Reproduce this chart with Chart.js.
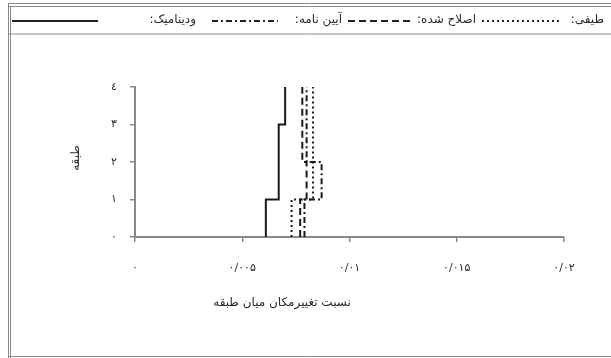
<!DOCTYPE html>
<html>
<head>
<meta charset="utf-8">
<script src="https://cdn.jsdelivr.net/npm/chart.js@4.4.1/dist/chart.umd.min.js"></script>
<style>
  body { margin: 0; background: #fff; }
  canvas { display: block; }
</style>
</head>
<body>
<canvas id="myChart" width="611" height="358"></canvas>
<script>
// stories and drift ratio per story
const stories = [1, 2, 3, 4];
const dynamicDrift = [0.0061, 0.0067, 0.0067, 0.0070];   // solid
const spectralDrift = [0.0073, 0.0083, 0.0083, 0.0083];  // dotted
const modifiedDrift = [0.0077, 0.0080, 0.0078, 0.0078];  // dashed
const codeDrift = [0.0079, 0.0087, 0.0080, 0.0080];      // dash-dot

const xTickLabels = ['۰', '۰/۰۰۵', '۰/۰۱', '۰/۰۱۵', '۰/۰۲'];
const yTickLabels = ['۰', '۱', '۲', '۳', '٤'];

const seriesNames = ['طیفی', 'اصلاح شده', 'آیین نامه', 'ودینامیک'];
const xTitle = 'نسبت تغییرمکان میان طبقه';
const yTitle = 'طبقه';

const FONT = '"DejaVu Sans", sans-serif';

// story profile: each story is a vertical segment from floor to floor
function stepPoints(drifts) {
  const pts = [];
  drifts.forEach((d, i) => {
    pts.push({ x: d, y: stories[i] - 1 });
    pts.push({ x: d, y: stories[i] });
  });
  return pts;
}

const dashes = [[2, 3], [7, 4], [6, 3, 2, 3], []];

// frame, legend and axis titles
const decor = {
  id: 'decor',
  afterDraw(chart) {
    const c = chart.ctx;
    c.save();
    c.strokeStyle = '#8a8a8a';
    c.lineWidth = 1;
    c.beginPath();
    c.moveTo(8, 3.5); c.lineTo(611, 3.5);
    c.moveTo(8, 6.5); c.lineTo(611, 6.5);
    c.moveTo(8, 34); c.lineTo(611, 34);
    c.moveTo(8.5, 3); c.lineTo(8.5, 358);
    c.moveTo(10.5, 6); c.lineTo(10.5, 358);
    c.moveTo(8, 356.5); c.lineTo(611, 356.5);
    c.stroke();

    // legend, right to left: label then sample
    const items = [
      { name: seriesNames[0], labelRight: 604, sample: [482, 562], dash: dashes[0] },
      { name: seriesNames[1], labelRight: 476, sample: [348, 410], dash: dashes[1] },
      { name: seriesNames[2], labelRight: 342, sample: [212, 278], dash: dashes[2] },
      { name: seriesNames[3], labelRight: 196, sample: [12, 98], dash: dashes[3] }
    ];
    c.font = '12px ' + FONT;
    c.fillStyle = '#2a2a2a';
    c.textBaseline = 'middle';
    c.direction = 'rtl';
    c.textAlign = 'right';
    items.forEach(it => {
      c.fillText(it.name + ':', it.labelRight, 20);
      c.strokeStyle = '#222';
      c.lineWidth = 2;
      c.setLineDash(it.dash);
      c.beginPath();
      c.moveTo(it.sample[0], 21);
      c.lineTo(it.sample[1], 21);
      c.stroke();
    });
    c.setLineDash([]);

    // x title
    c.font = '12px ' + FONT;
    c.textAlign = 'center';
    c.fillText(xTitle, 282, 303);

    // y title
    c.translate(76, 158);
    c.rotate(-Math.PI / 2);
    c.fillText(yTitle, 0, 0);
    c.restore();
  }
};

new Chart(document.getElementById('myChart'), {
  type: 'scatter',
  data: {
    datasets: [
      { label: seriesNames[0], data: stepPoints(spectralDrift), borderDash: dashes[0] },
      { label: seriesNames[1], data: stepPoints(modifiedDrift), borderDash: dashes[1] },
      { label: seriesNames[2], data: stepPoints(codeDrift), borderDash: dashes[2] },
      { label: seriesNames[3], data: stepPoints(dynamicDrift), borderDash: dashes[3] }
    ].map(ds => Object.assign(ds, {
      showLine: true,
      pointRadius: 0,
      borderColor: '#1a1a1a',
      borderWidth: 2,
      tension: 0
    }))
  },
  options: {
    responsive: false,
    devicePixelRatio: 1,
    animation: false,
    layout: { padding: { left: 60, right: 47, top: 87, bottom: 40 } },
    plugins: {
      legend: { display: false },
      tooltip: { enabled: false }
    },
    scales: {
      x: {
        type: 'linear',
        min: 0,
        max: 0.02,
        afterFit: s => { s.height = 81; },
        afterBuildTicks: s => { s.ticks = xTickLabels.map((t, i) => ({ value: i * 0.005 })); },
        ticks: {
          padding: 20,
          color: '#2a2a2a',
          font: { family: FONT, size: 11 },
          callback: (v, i) => xTickLabels[i]
        },
        grid: { drawOnChartArea: false, tickLength: 5, color: '#8a8a8a', lineWidth: 1.5 },
        border: { color: '#8a8a8a', width: 2 }
      },
      y: {
        type: 'linear',
        min: 0,
        max: 4,
        afterFit: s => { s.width = 75; },
        afterBuildTicks: s => { s.ticks = yTickLabels.map((t, i) => ({ value: i })); },
        ticks: {
          padding: 13,
          color: '#2a2a2a',
          font: { family: FONT, size: 11 },
          callback: (v, i) => yTickLabels[i]
        },
        grid: { drawOnChartArea: false, tickLength: 5, color: '#8a8a8a', lineWidth: 1.5 },
        border: { color: '#8a8a8a', width: 2 }
      }
    }
  },
  plugins: [decor]
});
</script>
</body>
</html>
